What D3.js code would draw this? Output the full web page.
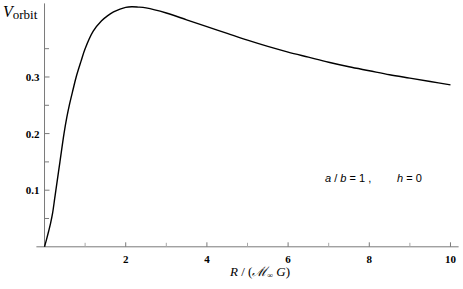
<!DOCTYPE html>
<html>
<head>
<meta charset="utf-8">
<script src="https://cdn.jsdelivr.net/npm/d3@7"></script>
<style>
  body { margin: 0; background: #fff; }
  svg { display: block; }
</style>
</head>
<body>
<svg width="463" height="289"></svg>
<script>
// orbital velocity curve
var radius = [0, 0.05, 0.1, 0.15, 0.2, 0.25, 0.28, 0.38, 0.48, 0.55, 0.61, 0.7, 0.78, 0.9, 1.0,
              1.2, 1.4, 1.55, 1.7, 1.86, 2.0, 2.15, 2.3, 2.5, 3.0, 3.5, 4.0, 4.5, 5.0,
              5.5, 6.0, 6.5, 7.0, 7.5, 8.0, 8.5, 9.0, 9.5, 10.0];
var vOrbit = [0, 0.013, 0.027, 0.042, 0.06, 0.085, 0.1, 0.15, 0.2, 0.229, 0.25, 0.277, 0.3, 0.328, 0.35,
              0.381, 0.399, 0.408, 0.415, 0.420, 0.423, 0.424, 0.4235, 0.422, 0.413, 0.401, 0.389, 0.377, 0.365,
              0.354, 0.344, 0.335, 0.326, 0.318, 0.311, 0.304, 0.298, 0.292, 0.286];

var xMajor = [2, 4, 6, 8, 10];
var xMinor = [1, 3, 5, 7, 9];
var yMajor = [0.1, 0.2, 0.3];
var yMinor = [0.05, 0.15, 0.25, 0.35];

var svg = d3.select('svg');
var x = d3.scaleLinear().domain([-0.2, 10.2]).range([36.4, 458.6]);
var y = d3.scaleLinear().domain([0, 0.43]).range([246.8, 3.4]);

var axisColor = '#7a7a7a';

// x axis line
svg.append('line')
    .attr('x1', x(-0.2)).attr('x2', x(10.2))
    .attr('y1', y(0)).attr('y2', y(0))
    .attr('stroke', axisColor).attr('stroke-width', 1);

// y axis line
svg.append('line')
    .attr('x1', x(0)).attr('x2', x(0))
    .attr('y1', y(0.43)).attr('y2', y(0))
    .attr('stroke', axisColor).attr('stroke-width', 1);

// x ticks (pointing up into the plot)
svg.selectAll('.xtick')
    .data(xMajor.concat(xMinor))
    .enter().append('line')
    .attr('x1', function(d) { return x(d); })
    .attr('x2', function(d) { return x(d); })
    .attr('y1', y(0))
    .attr('y2', function(d) { return y(0) - (xMajor.indexOf(d) >= 0 ? 4.5 : 4); })
    .attr('stroke', function(d) { return xMajor.indexOf(d) >= 0 ? axisColor : '#a8a8a8'; });

svg.selectAll('.xlab')
    .data(xMajor)
    .enter().append('text')
    .attr('x', function(d) { return x(d); })
    .attr('y', 263)
    .attr('text-anchor', 'middle')
    .style('font-family', '"Liberation Serif", serif')
    .style('font-weight', 'bold')
    .style('font-size', '11px')
    .text(function(d) { return d; });

// y ticks (pointing right)
svg.selectAll('.ytick')
    .data(yMajor.concat(yMinor))
    .enter().append('line')
    .attr('x1', x(0))
    .attr('x2', function(d) { return x(0) + (yMajor.indexOf(d) >= 0 ? 5 : 4.5); })
    .attr('y1', function(d) { return y(d); })
    .attr('y2', function(d) { return y(d); })
    .attr('stroke', axisColor);

svg.selectAll('.ylab')
    .data(yMajor)
    .enter().append('text')
    .attr('x', x(0) - 5)
    .attr('y', function(d) { return y(d) + 4; })
    .attr('text-anchor', 'end')
    .style('font-family', '"Liberation Serif", serif')
    .style('font-weight', 'bold')
    .style('font-size', '11px')
    .text(function(d) { return d3.format('.1f')(d); });

// curve
var line = d3.line()
    .x(function(d) { return x(d[0]); })
    .y(function(d) { return y(d[1]); })
    .curve(d3.curveCatmullRom.alpha(0.5));

svg.append('path')
    .datum(d3.zip(radius, vOrbit))
    .attr('d', line)
    .attr('fill', 'none')
    .attr('stroke', '#000')
    .attr('stroke-width', 1.4);

// axis titles
var yTitle = svg.append('text')
    .attr('x', 3).attr('y', 17)
    .style('font-family', '"Liberation Serif", serif');
yTitle.append('tspan')
    .style('font-style', 'italic').style('font-size', '16px')
    .text('V');
yTitle.append('tspan')
    .attr('dy', 2)
    .style('font-size', '13px')
    .text('orbit');

var xTitle = svg.append('text')
    .attr('x', 260).attr('y', 276)
    .attr('text-anchor', 'middle')
    .style('font-family', '"Liberation Serif", serif')
    .style('font-size', '13px');
xTitle.append('tspan').style('font-style', 'italic').text('R');
xTitle.append('tspan').text(' / (');
xTitle.append('tspan').style('font-style', 'italic').text('\u2133');
xTitle.append('tspan').attr('dy', 2).style('font-size', '8px').text('\u221e');
xTitle.append('tspan').attr('dy', -2).style('font-style', 'italic').text(' G');
xTitle.append('tspan').text(')');

// annotation
var note = svg.append('text')
    .attr('x', 325).attr('y', 182)
    .style('font-family', '"Liberation Sans", sans-serif')
    .style('font-size', '11px');
note.append('tspan').style('font-style', 'italic').text('a');
note.append('tspan').text(' / ');
note.append('tspan').style('font-style', 'italic').text('b');
note.append('tspan').text(' = 1 ,');
note.append('tspan').attr('x', 397).style('font-style', 'italic').text('h');
note.append('tspan').text(' = 0');
</script>
</body>
</html>
